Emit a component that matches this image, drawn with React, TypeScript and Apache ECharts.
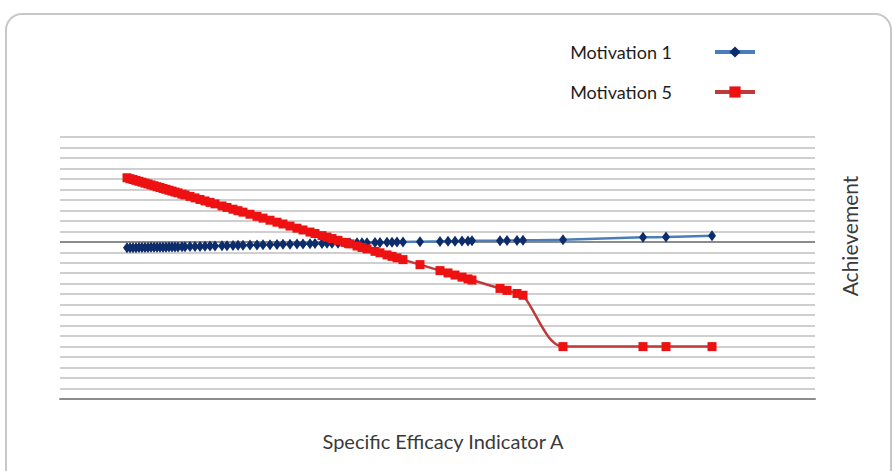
import React, { useEffect, useRef } from "react";
import * as echarts from "echarts";

// Specific Efficacy Indicator A (x values)
const indicatorA: number[] = [
  0.67, 0.7, 0.73, 0.76, 0.79, 0.82, 0.85, 0.88, 0.91, 0.94, 0.97, 1.0, 1.03, 1.06, 1.09, 1.12, 1.15, 1.18, 1.22, 1.25,
  1.3, 1.35, 1.4, 1.45, 1.5, 1.55, 1.62, 1.67, 1.73, 1.78, 1.83, 1.9, 1.97,
  2.03, 2.1, 2.17, 2.23, 2.3, 2.37, 2.43, 2.5, 2.55, 2.62, 2.67, 2.72, 2.78, 2.85, 2.9, 2.97,
  3.02, 3.07, 3.15, 3.2, 3.27, 3.32, 3.37, 3.43,
  3.6, 3.8, 3.88, 3.95, 4.02, 4.08, 4.12,
  4.4, 4.47, 4.57, 4.63,
  5.03, 5.83, 6.06, 6.52,
];

// Achievement, Motivation 1
const motivation1: number[] = [
  -0.57, -0.57, -0.56, -0.56, -0.55, -0.55, -0.54, -0.54, -0.53, -0.53, -0.52, -0.52, -0.51, -0.51, -0.5, -0.5, -0.49, -0.49, -0.48, -0.47,
  -0.46, -0.45, -0.44, -0.42, -0.41, -0.4, -0.38, -0.37, -0.35, -0.34, -0.33, -0.31, -0.3,
  -0.29, -0.27, -0.26, -0.24, -0.23, -0.21, -0.2, -0.18, -0.17, -0.16, -0.15, -0.14, -0.13, -0.12, -0.11, -0.1,
  -0.09, -0.08, -0.07, -0.06, -0.05, -0.04, -0.03, -0.02,
  0.01, 0.04, 0.05, 0.06, 0.07, 0.08, 0.09,
  0.11, 0.12, 0.13, 0.14,
  0.19, 0.43, 0.45, 0.57,
];

// Achievement, Motivation 5
const motivation5: number[] = [
  6.11, 6.02, 5.94, 5.86, 5.77, 5.69, 5.6, 5.52, 5.43, 5.35, 5.26, 5.18, 5.09, 5.01, 4.92, 4.84, 4.75, 4.67, 4.55, 4.47,
  4.33, 4.19, 4.04, 3.9, 3.76, 3.62, 3.42, 3.28, 3.11, 2.97, 2.83, 2.63, 2.43,
  2.26, 2.06, 1.87, 1.7, 1.5, 1.3, 1.13, 0.93, 0.79, 0.59, 0.45, 0.31, 0.14, -0.06, -0.2, -0.4,
  -0.54, -0.68, -0.91, -1.05, -1.25, -1.39, -1.53, -1.7,
  -2.18, -2.75, -2.97, -3.17, -3.37, -3.54, -3.65,
  -4.45, -4.64, -4.93, -5.1,
  -10.0, -10.0, -10.0, -10.0,
];

const seriesNames = ["Motivation 1", "Motivation 5"];
const xAxisName = "Specific Efficacy Indicator A";
const yAxisName = "Achievement";

export default function App() {
  const ref = useRef<HTMLDivElement>(null);

  useEffect(() => {
    if (!ref.current) return;
    const chart = echarts.init(ref.current, null, { renderer: "svg" });
    const font = "Lato, 'Open Sans', sans-serif";
    chart.setOption({
      animation: false,
      backgroundColor: "#ffffff",
      graphic: [
        {
          type: "rect",
          shape: { x: 6, y: 14, width: 885, height: 480, r: 16 },
          style: { fill: "none", stroke: "#c8c8c8", lineWidth: 2 },
          z: -1,
          silent: true,
        },
        {
          type: "text",
          x: 849,
          y: 236,
          rotation: Math.PI / 2,
          silent: true,
          style: {
            text: yAxisName,
            fontFamily: font,
            fontSize: 21,
            fill: "#3a3a3a",
            align: "center",
            verticalAlign: "middle",
          },
        },
      ],
      legend: {
        orient: "vertical",
        right: 131,
        top: 38,
        align: "right",
        itemWidth: 40,
        itemHeight: 14,
        itemGap: 22,
        lineStyle: { width: 4 },
        textStyle: {
          fontFamily: font,
          fontSize: 18,
          color: "#1e1e1e",
          padding: [0, 38, 0, 0],
        },
        data: seriesNames,
      },
      grid: { left: 60, right: 78, top: 137, bottom: 72 },
      xAxis: {
        type: "value",
        min: 0,
        max: 7.55,
        name: xAxisName,
        nameLocation: "middle",
        nameGap: 32,
        nameTextStyle: { fontFamily: font, fontSize: 20, color: "#3a3a3a", padding: [0, 0, 0, 11] },
        axisLine: { show: true, onZero: false, lineStyle: { color: "#8c8c8c", width: 2 } },
        axisTick: { show: false },
        axisLabel: { show: false },
        splitLine: { show: false },
      },
      yAxis: {
        type: "value",
        position: "right",
        min: -15,
        max: 10,
        interval: 1,
        axisLine: { show: false },
        axisTick: { show: false },
        axisLabel: { show: false },
        splitLine: { show: true, lineStyle: { color: "#bfbfbf", width: 1.5 } },
      },
      series: [
        {
          name: seriesNames[0],
          type: "line",
          data: indicatorA.map((x, i) => [x, motivation1[i]]),
          smooth: 0.3,
          symbol: "diamond",
          symbolSize: [8, 11],
          itemStyle: { color: "#0d2c6c" },
          lineStyle: { color: "#4a7ebb", width: 2.5 },
          z: 3,
          markLine: {
            silent: true,
            symbol: "none",
            label: { show: false },
            lineStyle: { color: "#8c8c8c", width: 2, type: "solid" },
            data: [{ yAxis: 0 }],
            z: 1,
          },
        },
        {
          name: seriesNames[1],
          type: "line",
          data: indicatorA.map((x, i) => [x, motivation5[i]]),
          smooth: 0.3,
          symbol: "rect",
          symbolSize: 9,
          itemStyle: { color: "#ee1111" },
          lineStyle: { color: "#c0393b", width: 2.5 },
          z: 4,
        },
      ],
    });
    return () => chart.dispose();
  }, []);

  return (
    <div
      ref={ref}
      style={{ position: "absolute", left: 0, top: 0, width: 893, height: 471 }}
    />
  );
}
